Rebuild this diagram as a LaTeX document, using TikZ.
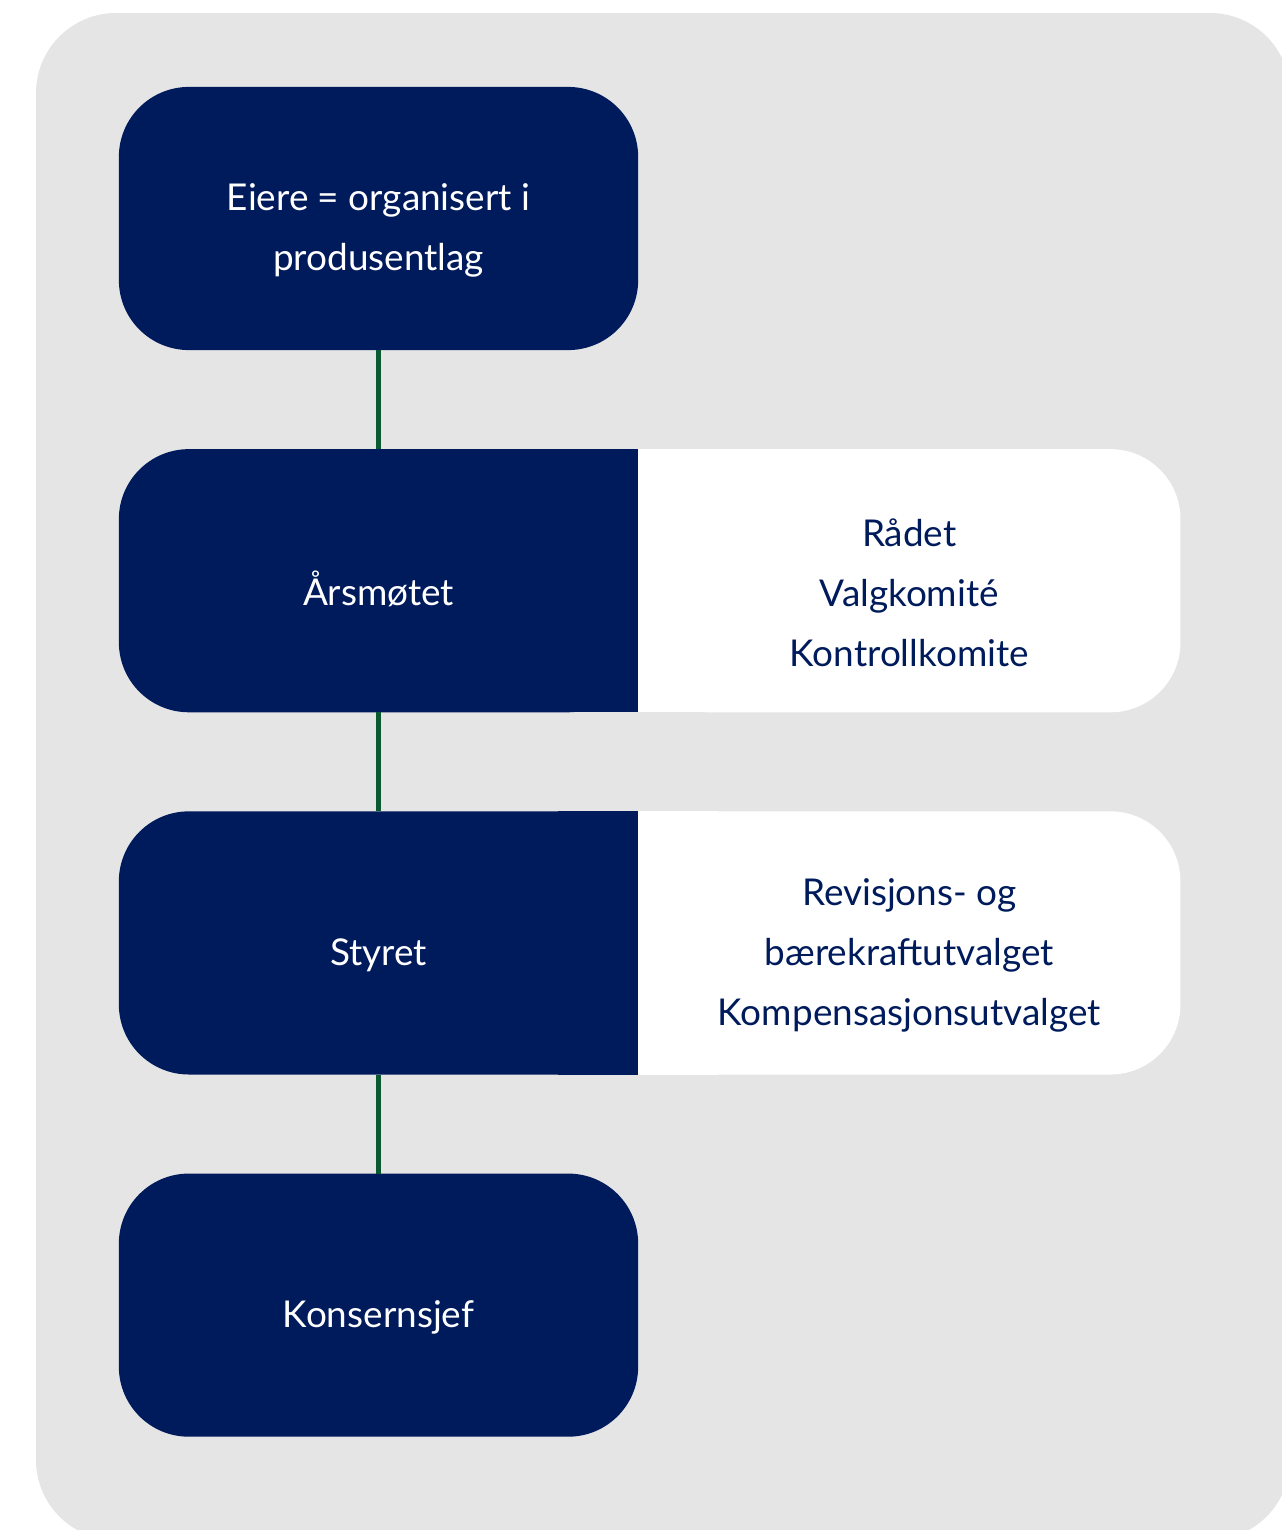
\documentclass[tikz,border=0pt]{standalone}
\usepackage{fontspec}
\setmainfont{Lato}
\usepackage{tikz}
\usetikzlibrary{positioning,backgrounds}
\definecolor{orgnavy}{HTML}{001B5C}
\definecolor{orggreen}{HTML}{0B5A2F}
\definecolor{panelgray}{HTML}{E5E5E5}
\newcommand{\orgfont}{\fontsize{10.5}{17.07}\selectfont}
\newcommand{\orgstrut}{\rule{0pt}{14.5pt}}
\tikzset{
  orgbase/.style={rounded corners=0.7cm,minimum height=2.63cm,align=center,inner sep=0pt,outer sep=0pt,font=\orgfont},
  orgbox/.style={orgbase,fill=orgnavy,text=white,minimum width=5.19cm},
  sidebox/.style={orgbase,fill=white,text=orgnavy,minimum width=5.42cm},
  orglink/.style={orggreen,line width=0.05cm}
}

\begin{document}
\begin{tikzpicture}[x=0.01cm,y=-0.01cm]
  \useasboundingbox (0,0) rectangle (1281,1530);
  \clip (0,0) rectangle (1281,1530);
  \node[orgbox] (eiere) at (378.5,218.5) {\orgstrut Eiere = organisert i\\produsentlag};
  \node[orgbox,below=0.99cm of eiere] (aarsmote) {\orgstrut Årsmøtet};
  \node[orgbox,below=0.99cm of aarsmote] (styret) {\orgstrut Styret};
  \node[orgbox,below=0.99cm of styret] (konsernsjef) {\orgstrut Konsernsjef};
  \node[sidebox,right=0cm of aarsmote] (raadet) {\orgstrut Rådet\\Valgkomité\\Kontrollkomite};
  \node[sidebox,right=0cm of styret] (utvalg) {\orgstrut Revisjons- og\\bærekraftutvalget\\Kompensasjonsutvalget};
  \draw[orglink] (eiere) -- (aarsmote);
  \draw[orglink] (aarsmote) -- (styret);
  \draw[orglink] (styret) -- (konsernsjef);
  \begin{scope}[on background layer]
    \fill[panelgray,rounded corners=0.8cm] (36,13) rectangle (1290,1540);
    \fill[orgnavy] ([xshift=-0.8cm]aarsmote.north east) rectangle (aarsmote.south east);
    \fill[orgnavy] ([xshift=-0.8cm]styret.north east) rectangle (styret.south east);
    \fill[white] (raadet.north west) rectangle ([xshift=0.8cm]raadet.south west);
    \fill[white] (utvalg.north west) rectangle ([xshift=0.8cm]utvalg.south west);
  \end{scope}
\end{tikzpicture}
\end{document}
